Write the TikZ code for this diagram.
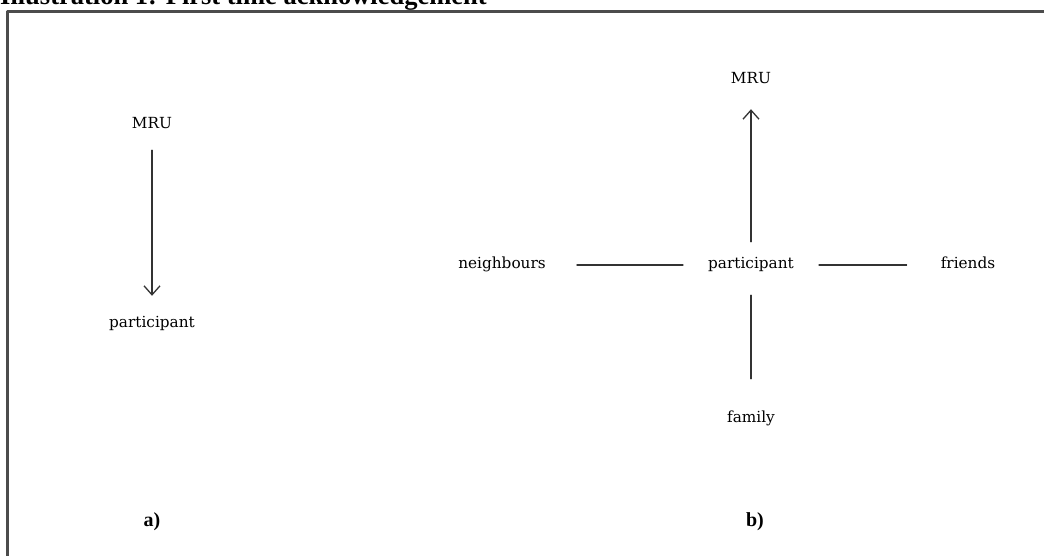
\documentclass[tikz,border=0pt]{standalone}
\usepackage{fontspec}
\setmainfont{DejaVu Serif}
\newfontfamily\titlefont{Liberation Serif}
\usetikzlibrary{arrows.meta}

\begin{document}
\begin{tikzpicture}[x=1pt, y=-1pt, line cap=round, line join=round,
  lbl/.style={inner sep=0pt, text height=11pt, text depth=3pt,
    font=\fontsize{15.3}{17}\selectfont},
  tag/.style={inner sep=0pt, font=\titlefont\bfseries\fontsize{20}{22}\selectfont},
  conn/.style={draw=black!80, line width=1.3pt},
  arr/.style={conn, -{Straight Barb[length=9pt,width=16pt,line width=1.3pt]}}]
  \useasboundingbox (0,0) rectangle (1044,556);

  % Tieu de (bi cat o tren)
  \node[anchor=base west, inner sep=0pt,
    font=\titlefont\bfseries\fontsize{26.5}{28}\selectfont] (title) at (0,5)
    {Illustration 1: First time acknowledgement};

  % Khung
  \draw[gray!60!black, line width=2.2pt] (7.5,600) -- (7.5,11.5) -- (1100,11.5);

  % Hinh a)
  \node[lbl] (mruA) at (152,125) {MRU};
  \node[lbl] (partA) at (152,323) {participant};
  \draw[arr, shorten <=18pt, shorten >=20pt] (mruA) -- (partA);

  % Hinh b)
  \node[lbl] (mruB) at (751,80) {MRU};
  \node[lbl] (partB) at (751,265) {participant};
  \node[lbl] (nbr) at (502,265) {neighbours};
  \node[lbl] (frd) at (968,265) {friends};
  \node[lbl] (fam) at (751,418) {family};

  \draw[arr, shorten <=16pt, shorten >=22pt] (partB) -- (mruB);
  \draw[conn, shorten <=31pt, shorten >=25pt] (nbr) -- (partB);
  \draw[conn, shorten <=25pt, shorten >=34pt] (partB) -- (frd);
  \draw[conn, shorten <=23pt, shorten >=32pt] (partB) -- (fam);

  % Nhan
  \node[tag] (capA) at (152,522) {a)};
  \node[tag] (capB) at (755,522) {b)};
\end{tikzpicture}
\end{document}
